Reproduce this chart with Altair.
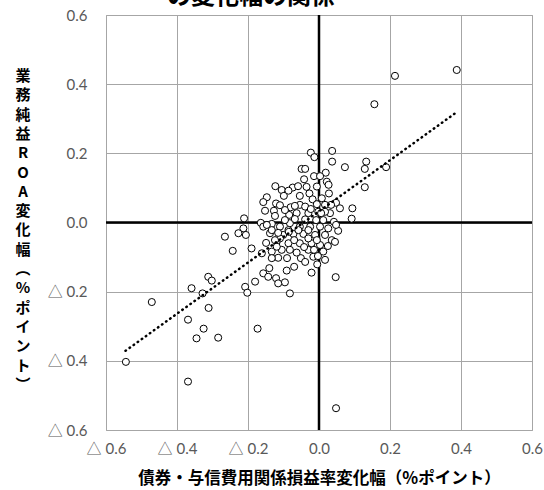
import altair as alt
import pandas as pd

# ---- data ----
x_vals = [0.388, 0.214, 0.156, 0.037, -0.023, -0.013, 0.037, 0.073, 0.133, 0.129,
          0.189, 0.129, -0.049, -0.039, 0.019, -0.014, 0.003, -0.042, 0.022, 0.027,
          -0.006, -0.035, -0.123, -0.105, -0.074, -0.086, -0.099, -0.147, -0.157, -0.121,
          -0.110, -0.127, -0.152, -0.054, -0.027, -0.018, 0.008, 0.028, 0.048, 0.059,
          0.094, 0.092, -0.054, -0.080, -0.039, -0.006, 0.017, 0.031, 0.042, -0.063,
          -0.084, -0.030, -0.002, 0.017, -0.039, -0.008, 0.012, -0.211, -0.164, -0.213,
          -0.227, -0.206, -0.157, -0.133, -0.110, -0.082, -0.054, -0.025, 0.003, 0.026,
          0.054, -0.138, -0.101, -0.072, -0.044, -0.011, 0.017, 0.036, -0.119, -0.086,
          -0.054, -0.021, 0.003, -0.243, -0.190, -0.161, -0.133, -0.105, -0.082, -0.063,
          -0.030, 0.012, 0.017, -0.005, -0.021, 0.047, -0.051, -0.016, -0.115, -0.070,
          -0.091, -0.121, -0.096, -0.115, -0.082, -0.110, -0.030, -0.006, -0.086, -0.058,
          -0.030, -0.265, -0.312, -0.302, -0.359, -0.328, -0.208, -0.202, -0.180, -0.157,
          -0.143, -0.140, -0.133, -0.147, -0.133, -0.124, -0.119, -0.471, -0.311, -0.369,
          -0.325, -0.345, -0.284, -0.173, -0.544, -0.369, 0.048,
          -0.096, -0.068, -0.023, 0.006, 0.034, 0.048, -0.068, -0.096, -0.124, -0.149,
          -0.070, -0.042, -0.014, 0.025, -0.003, -0.039, -0.090, -0.059, -0.085, -0.115,
          0.045]
y_vals = [0.441, 0.424, 0.342, 0.207, 0.202, 0.189, 0.176, 0.160, 0.176, 0.155,
          0.160, 0.102, 0.155, 0.155, 0.144, 0.134, 0.134, 0.125, 0.118, 0.109,
          0.104, 0.103, 0.105, 0.094, 0.101, 0.092, 0.077, 0.073, 0.059, 0.055,
          0.050, 0.034, 0.034, 0.077, 0.084, 0.067, 0.070, 0.084, 0.057, 0.041,
          0.041, 0.011, 0.051, 0.044, 0.046, 0.053, 0.051, 0.027, 0.002, 0.027,
          0.022, 0.027, 0.031, 0.031, 0.009, 0.007, 0.007, 0.012, -0.001, -0.017,
          -0.031, -0.036, -0.012, -0.004, -0.012, -0.002, -0.012, -0.012, -0.012, -0.017,
          -0.024, -0.031, -0.036, -0.033, -0.033, -0.036, -0.036, -0.051, -0.055, -0.060,
          -0.060, -0.060, -0.065, -0.082, -0.075, -0.089, -0.084, -0.079, -0.079, -0.087,
          -0.079, -0.084, -0.108, -0.121, -0.145, -0.158, -0.103, -0.099, -0.102, -0.128,
          -0.139, -0.161, -0.173, -0.176, -0.205, -0.046, -0.046, -0.051, -0.022, -0.022,
          -0.022, -0.041, -0.157, -0.168, -0.190, -0.205, -0.186, -0.203, -0.171, -0.147,
          -0.157, -0.132, -0.103, -0.007, -0.022, -0.051, -0.070, -0.230, -0.247, -0.281,
          -0.307, -0.335, -0.333, -0.307, -0.403, -0.460, -0.537,
          0.036, 0.048, 0.039, 0.027, 0.051, -0.007, 0.010, 0.007, 0.019, -0.059,
          -0.051, -0.071, -0.079, -0.068, -0.097, -0.114, -0.103, 0.105, -0.027, -0.030,
          -0.056]

trend_x = [-0.545, 0.385]
trend_y = [-0.371, 0.317]

tick_values = [-0.6, -0.4, -0.2, 0.0, 0.2, 0.4, 0.6]
title_text = "の変化幅の関係"
x_title = "債券・与信費用関係損益率変化幅（%ポイント）"
y_title_chars = ["業", "務", "純", "益", "R", "O", "A", "変", "化", "幅",
                 "︵", "%", "ポ", "イ", "ン", "ト", "︶"]

points = pd.DataFrame({"x": x_vals, "y": y_vals})
trend = pd.DataFrame({"x": trend_x, "y": trend_y})
zero = pd.DataFrame({"v": [0.0]})

W, H = 426, 415
label_expr = "datum.value < -0.001 ? '△ ' + format(-datum.value, '.1f') : format(datum.value, '.1f')"
FONT = "Lato, Noto Sans CJK JP, sans-serif"
JFONT = "Noto Sans CJK JP"

xs = alt.Scale(domain=[-0.6, 0.6], nice=False, zero=False)
ys = alt.Scale(domain=[-0.6, 0.6], nice=False, zero=False)

x_axis = alt.Axis(values=tick_values, labelExpr=label_expr, grid=True, ticks=False,
                  domain=False, labelPadding=11, labelFontSize=15, labelColor="#595959",
                  labelFont=FONT, labelFlush=False, labelOverlap=False,
                  title=x_title, titleFont=JFONT, titleFontSize=16.5,
                  titleFontWeight="bold", titleColor="#000000", titlePadding=14,
                  gridColor="#a6a6a6", gridWidth=1)
y_axis = alt.Axis(values=tick_values, labelExpr=label_expr, grid=True, ticks=False,
                  domain=False, labelPadding=19, labelFontSize=15, labelColor="#595959",
                  labelFont=FONT, labelFlush=False, labelOverlap=False,
                  title=None, gridColor="#a6a6a6", gridWidth=1)

base_pts = alt.Chart(points).mark_point(
    shape="circle", filled=True, fill="white", stroke="black", strokeWidth=1, size=50, opacity=1
).encode(
    x=alt.X("x:Q", scale=xs, axis=x_axis),
    y=alt.Y("y:Q", scale=ys, axis=y_axis),
)

vline = alt.Chart(zero).mark_rule(color="black", strokeWidth=2.5).encode(x=alt.X("v:Q", scale=xs))
hline = alt.Chart(zero).mark_rule(color="black", strokeWidth=2.5).encode(y=alt.Y("v:Q", scale=ys))

trend_line = alt.Chart(trend).mark_line(
    color="black", strokeWidth=2.5, strokeDash=[0.5, 4.5], strokeCap="round"
).encode(x=alt.X("x:Q", scale=xs), y=alt.Y("y:Q", scale=ys))

title_mark = alt.Chart(pd.DataFrame({"t": [title_text]})).mark_text(
    font=JFONT, fontSize=24, fontWeight="bold", align="center", baseline="alphabetic", color="black"
).encode(text="t:N", x=alt.value(145), y=alt.value(-11))

ytitle_mark = alt.Chart(pd.DataFrame({"t": ["\n".join(y_title_chars)]})).mark_text(
    font=JFONT, fontSize=15, fontWeight="bold", align="center", baseline="top",
    lineBreak="\n", lineHeight=19.3, color="black"
).encode(text="t:N", x=alt.value(-83), y=alt.value(54))

chart = alt.layer(vline, hline, base_pts, trend_line, title_mark, ytitle_mark).properties(
    width=W, height=H,
    autosize=alt.AutoSizeParams(type="none"),
    padding={"left": 106, "top": 15, "right": 12, "bottom": 60},
).configure_view(stroke="#a6a6a6", strokeWidth=1)

chart.save("out.html", embed_options={"renderer": "svg", "actions": False})
